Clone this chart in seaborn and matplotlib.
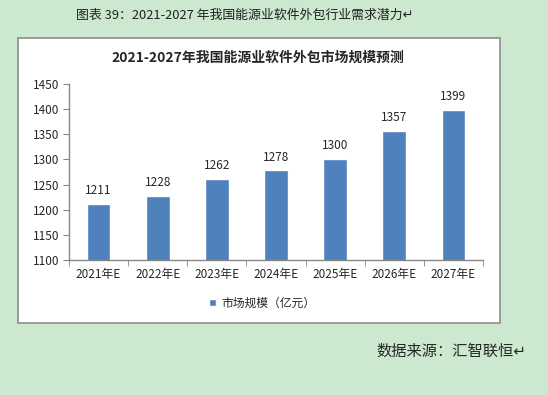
import numpy as np
import pandas as pd
import seaborn as sns
import matplotlib.pyplot as plt
from matplotlib.patches import Rectangle

years = ["2021年E", "2022年E", "2023年E", "2024年E", "2025年E", "2026年E", "2027年E"]
market_size = [1211, 1228, 1262, 1278, 1300, 1357, 1399]
series_name = "市场规模（亿元）"

sns.set_style("white")
plt.rcParams['font.family'] = ['Noto Sans CJK SC', 'DejaVu Sans']

df = pd.DataFrame({"year": years, "value": market_size})

fig = plt.figure(figsize=(5.48, 3.95), dpi=100)
fig.patch.set_facecolor("#cce8cf")

# white chart box
fig.patches.append(Rectangle((18 / 548, 1 - 323 / 395), 482 / 548, 285 / 395,
                             transform=fig.transFigure, facecolor="white",
                             edgecolor="#8c8c8c", linewidth=1.2, zorder=-10))

ax = fig.add_axes([69 / 548, 1 - 260 / 395, 414 / 548, 176 / 395])
ax.set_facecolor("none")
ax.set_zorder(5)

sns.barplot(data=df, x="year", y="value", color="#4f81bd", width=0.4,
            saturation=1, ax=ax, label=series_name)

ax.set_ylim(1100, 1450)
ax.set_yticks(np.arange(1100, 1451, 50))
ax.set_xlim(-0.5, len(years) - 0.5)
ax.set_xlabel("")
ax.set_ylabel("")

for s in ["top", "right"]:
    ax.spines[s].set_visible(False)
for s in ["left", "bottom"]:
    ax.spines[s].set_color("#868686")
    ax.spines[s].set_linewidth(1)

ax.tick_params(axis="y", which="major", direction="out", length=4, color="#868686",
               labelsize=8.5, left=True, pad=3)
ax.tick_params(axis="x", which="major", length=0, labelsize=8.5, pad=6)
ax.set_xticks(np.arange(-0.5, len(years), 1), minor=True)
ax.tick_params(axis="x", which="minor", direction="out", length=4, color="#868686", bottom=True)

for p, v in zip(ax.patches, market_size):
    ax.annotate(f"{v}", (p.get_x() + p.get_width() / 2, p.get_height()),
                xytext=(0, 5), textcoords="offset points",
                ha="center", va="bottom", fontsize=8.5)

ax.legend(loc="center", bbox_to_anchor=(262 / 548, 1 - 303 / 395),
          bbox_transform=fig.transFigure, frameon=False, fontsize=8.5,
          handlelength=0.6, handleheight=0.6, handletextpad=0.4)

fig.text(258 / 548, 1 - 58 / 395, "2021-2027年我国能源业软件外包市场规模预测",
         ha="center", va="center", fontsize=10, fontweight="bold")
fig.text(245 / 548, 1 - 15 / 395, "图表 39：2021-2027 年我国能源业软件外包行业需求潜力↵",
         ha="center", va="center", fontsize=9.3, color="#222222")
fig.text(376 / 548, 1 - 351 / 395, "数据来源：汇智联恒↵",
         ha="left", va="center", fontsize=11)

fig.savefig("out.png", dpi=100, facecolor=fig.get_facecolor())
